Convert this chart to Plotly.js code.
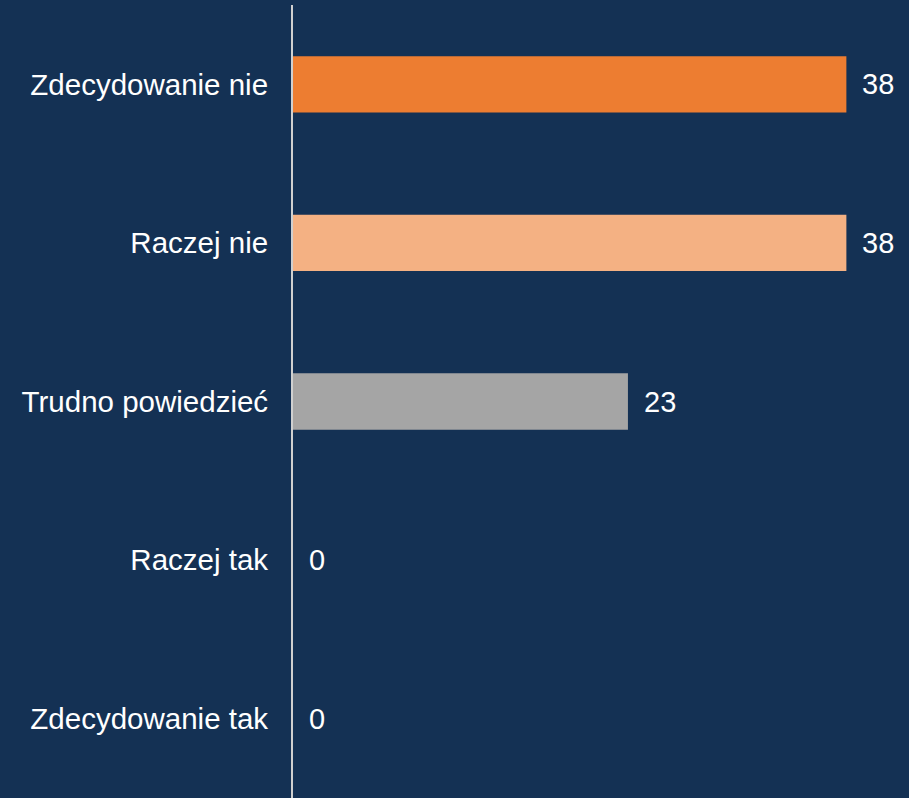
<!DOCTYPE html>
<html>
<head>
<meta charset="utf-8">
<script src="https://cdn.plot.ly/plotly-3.0.1.min.js"></script>
<style>
html,body{margin:0;padding:0;background:#143154;}
#chart{width:909px;height:798px;}
</style>
</head>
<body>
<div id="chart"></div>
<script>
const categories = ["Zdecydowanie nie", "Raczej nie", "Trudno powiedzieć", "Raczej tak", "Zdecydowanie tak"];
const values = [38, 38, 23, 0, 0];
const barColors = ["#ED7D31", "#F4B183", "#A5A5A5", "#A5A5A5", "#A5A5A5"];

const FONT = "Liberation Sans, Arial, sans-serif";

const trace = {
  type: "bar",
  orientation: "h",
  y: categories,
  x: values,
  marker: {color: barColors},
  hoverinfo: "none"
};

const annotations = categories.map((c, i) => ({
  x: values[i], y: c, xref: "x", yref: "y",
  text: String(values[i]), showarrow: false,
  xanchor: "left", xshift: 14,
  font: {family: FONT, size: 29, color: "#FFFFFF"}
}));

const layout = {
  width: 909, height: 798,
  margin: {l: 293, r: 0, t: 5, b: 0},
  paper_bgcolor: "#143154",
  plot_bgcolor: "#143154",
  bargap: 0.645,
  showlegend: false,
  xaxis: {range: [0, 42.3], showgrid: false, zeroline: false, showticklabels: false, showline: false, fixedrange: true},
  yaxis: {
    autorange: "reversed",
    showgrid: false, zeroline: false,
    showline: true, linecolor: "#D0D0D0", linewidth: 2,
    ticks: "", ticklabelstandoff: 17,
    tickfont: {family: FONT, size: 29.5, color: "#FFFFFF"}
  },
  annotations: annotations
};

Plotly.newPlot("chart", [trace], layout, {displayModeBar: false, staticPlot: true});
</script>
</body>
</html>
